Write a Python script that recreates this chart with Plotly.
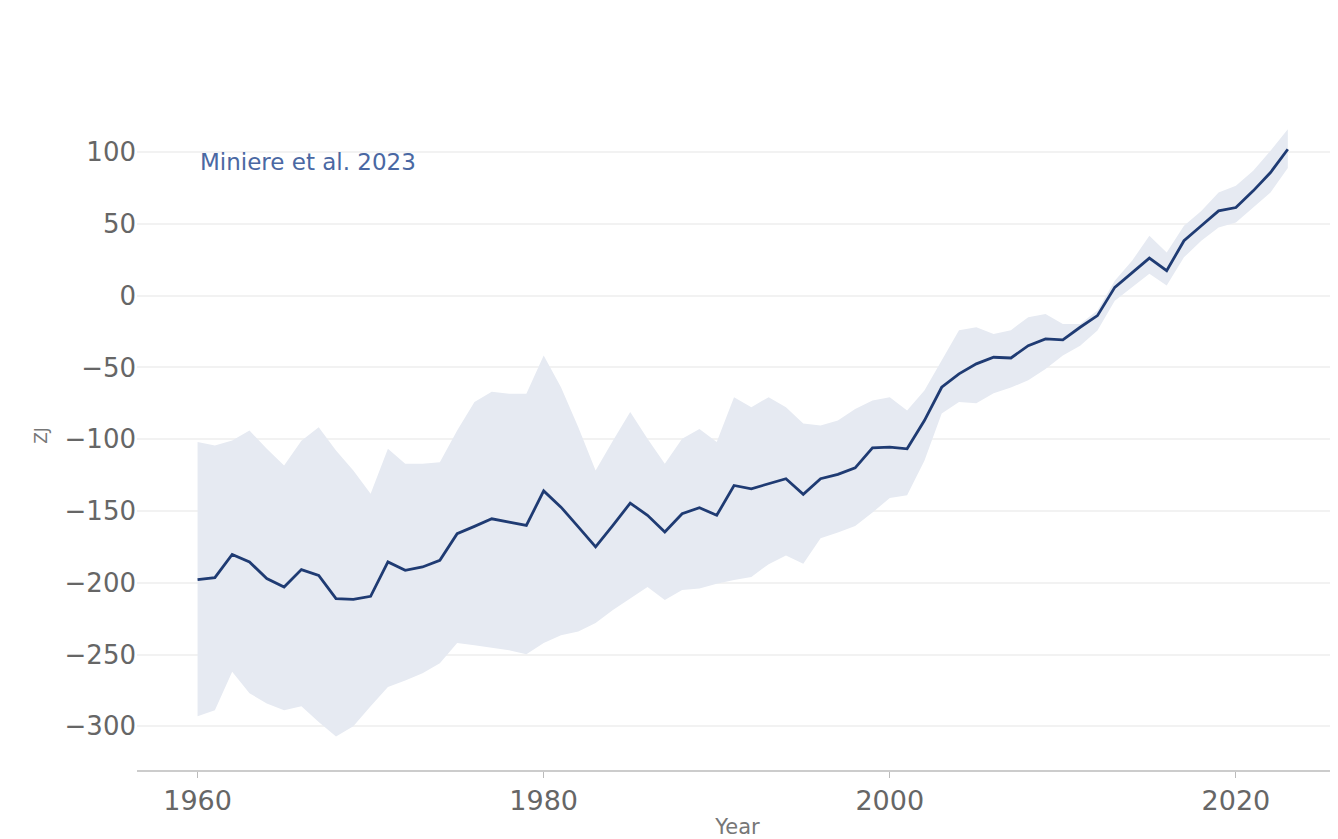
import plotly.graph_objects as go

years = list(range(1960, 2024))

ohc_mean = [-197.8, -196.4, -180.2, -185.5, -197.0, -202.9, -190.8, -194.8, -211.0, -211.5,
            -209.4, -185.5, -191.3, -189.0, -184.3, -165.8, -160.7, -155.4, -157.7, -160.0,
            -136.0, -147.3, -161.0, -175.0, -160.0, -144.5, -153.0, -164.6, -151.9, -147.7,
            -153.0, -132.2, -134.5, -131.0, -127.5, -138.4, -127.5, -124.5, -119.9, -106.0,
            -105.5, -106.7, -87.0, -63.8, -54.5, -47.5, -42.9, -43.4, -34.8, -30.1,
            -30.8, -22.0, -13.9, 5.8, 16.2, 26.2, 17.4, 38.3, 48.7, 59.1,
            61.4, 73.0, 85.8, 102.0]

ohc_upper = [-102.0, -104.3, -100.9, -93.9, -106.7, -118.3, -101.0, -91.6, -107.8, -121.7,
             -138.0, -106.7, -117.0, -117.0, -116.0, -94.0, -74.0, -67.0, -68.4, -68.4,
             -41.7, -63.8, -91.6, -121.7, -101.0, -81.0, -99.7, -117.0, -99.7, -92.8,
             -102.0, -70.7, -77.7, -70.7, -77.7, -89.0, -90.4, -87.0, -79.0, -73.0,
             -70.7, -80.0, -66.0, -45.0, -24.0, -22.0, -26.7, -24.0, -15.0, -12.8,
             -19.7, -19.7, -10.4, 10.4, 24.3, 41.7, 30.0, 48.7, 59.0, 71.9,
             76.5, 87.0, 101.0, 116.0]

ohc_lower = [-293.0, -288.7, -262.0, -277.0, -284.0, -288.7, -286.0, -297.0, -307.0, -300.0,
             -286.0, -272.5, -268.0, -263.0, -256.0, -242.0, -243.5, -245.0, -247.0, -249.7,
             -242.0, -236.5, -234.0, -228.0, -219.0, -211.0, -203.0, -212.0, -205.0, -204.0,
             -200.6, -198.0, -196.0, -187.0, -181.0, -186.7, -169.0, -165.0, -160.5, -151.0,
             -141.0, -139.0, -115.0, -82.0, -74.0, -75.0, -68.0, -64.0, -59.0, -51.0,
             -41.7, -34.8, -24.3, -3.5, 5.8, 15.3, 7.0, 26.7, 38.3, 47.5,
             51.0, 61.4, 71.9, 89.0]

x_tick_vals = [1960, 1980, 2000, 2020]
y_tick_vals = [100, 50, 0, -50, -100, -150, -200, -250, -300]
y_tick_text = ["100", "50", "0", "\u221250", "\u2212100", "\u2212150", "\u2212200", "\u2212250", "\u2212300"]

source_label = "Miniere et al. 2023"

FONT = "DejaVu Sans"

fig = go.Figure()
fig.add_trace(go.Scatter(x=years, y=ohc_upper, mode="lines", line=dict(width=0),
                         showlegend=False, hoverinfo="skip"))
fig.add_trace(go.Scatter(x=years, y=ohc_lower, mode="lines", line=dict(width=0),
                         fill="tonexty", fillcolor="#e6eaf2",
                         showlegend=False, hoverinfo="skip"))
fig.add_trace(go.Scatter(x=years, y=ohc_mean, mode="lines",
                         line=dict(color="#1f3b73", width=2.8),
                         showlegend=False, name=source_label))

fig.add_annotation(x=1960, y=93, xref="x", yref="y", text=source_label,
                   showarrow=False, xanchor="left", yanchor="middle",
                   font=dict(family=FONT, size=23, color="#4a68a3"))

fig.update_layout(
    width=1330, height=831,
    margin=dict(l=129, r=0, t=93, b=69),
    paper_bgcolor="white", plot_bgcolor="white",
    font=dict(family=FONT, color="#666666"),
    xaxis=dict(range=[1956.5, 2025.9], tickvals=x_tick_vals,
               showgrid=False, zeroline=False,
               showline=True, linecolor="#cccccc", linewidth=1.5,
               ticks="outside", ticklen=6, tickcolor="#bbbbbb",
               tickfont=dict(family=FONT, size=27, color="#666666"),
               title=dict(text="Year", font=dict(family=FONT, size=21, color="#777777"),
                          standoff=6)),
    yaxis=dict(range=[-330.4, 135.6], tickvals=y_tick_vals, ticktext=y_tick_text,
               showgrid=True, gridcolor="#f2f2f2", gridwidth=1.5,
               zeroline=False, showline=False,
               tickfont=dict(family=FONT, size=26, color="#666666"),
               title=dict(text="ZJ", font=dict(family=FONT, size=17, color="#777777"),
                          standoff=12)),
)

fig.write_html("out.html")
